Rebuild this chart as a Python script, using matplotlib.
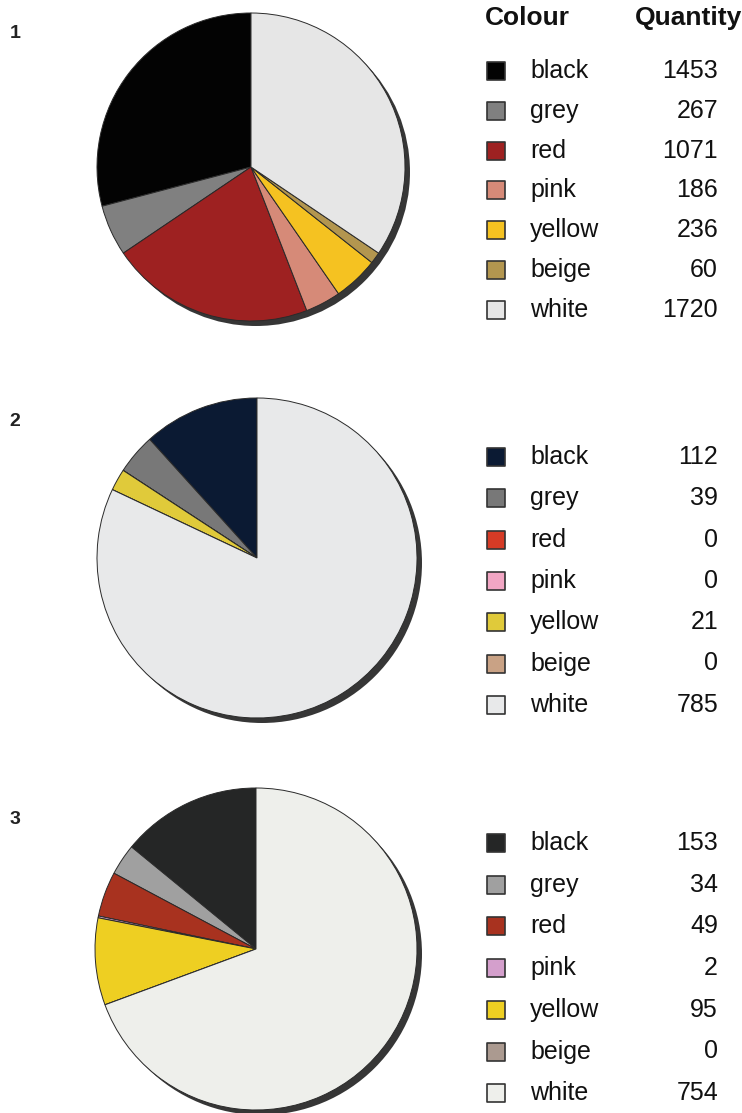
import matplotlib
matplotlib.use("Agg")
import matplotlib.pyplot as plt
from matplotlib.patches import Circle

plt.rcParams['font.family'] = ['Liberation Sans', 'DejaVu Sans']

colours = ['black', 'grey', 'red', 'pink', 'yellow', 'beige', 'white']
qty1 = [1453, 267, 1071, 186, 236, 60, 1720]
qty2 = [112, 39, 0, 0, 21, 0, 785]
qty3 = [153, 34, 49, 2, 95, 0, 754]
panel_labels = ['1', '2', '3']

pal1 = ['#030303', '#808080', '#9e2121', '#d68a78', '#f5c221', '#b3964f', '#e6e6e6']
pal2 = ['#0b1a33', '#787878', '#d63b26', '#f2a6c4', '#e0ca3a', '#c9a285', '#e8e9ea']
pal3 = ['#252626', '#a0a0a0', '#a8321f', '#d49fcc', '#eecf22', '#ab9a90', '#eeefeb']

W, H = 742, 1113
fig = plt.figure(figsize=(W / 100, H / 100), dpi=100)
ax = fig.add_axes([0, 0, 1, 1])

# layout (pixel coords, y measured from top)
panels = [
    dict(q=qty1, pal=pal1, cx=251, cy=167, r=154, row0=71, dy=39.8, lab_y=34),
    dict(q=qty2, pal=pal2, cx=257, cy=558, r=160, row0=457, dy=41.3, lab_y=422),
    dict(q=qty3, pal=pal3, cx=256, cy=949, r=161, row0=843, dy=41.7, lab_y=820),
]

def Y(y):
    return H - y

for i, p in enumerate(panels):
    cx, cy, r = p['cx'], Y(p['cy']), p['r']
    ax.add_patch(Circle((cx + 5, cy - 5), r, facecolor='#363636', edgecolor='none', zorder=1))
    wedges, _ = ax.pie(p['q'], colors=p['pal'], startangle=90, counterclock=True,
                       center=(cx, cy), radius=r,
                       wedgeprops=dict(edgecolor='#2a2a2a', linewidth=0.7))
    for w in wedges:
        w.set_zorder(2)
    ax.text(15, Y(p['lab_y']), panel_labels[i], fontsize=14, fontweight='bold',
            ha='center', va='center', color='#222222')
    for j, (name, val) in enumerate(zip(colours, p['q'])):
        yy = Y(p['row0'] + j * p['dy'])
        ax.scatter([496], [yy], marker='s', s=175, color=p['pal'][j],
                   edgecolor='#333333', linewidth=1.2, zorder=3)
        ax.text(530, yy, name, fontsize=18, ha='left', va='center', color='#111111')
        ax.text(718, yy, str(val), fontsize=18, ha='right', va='center', color='#111111')

ax.text(485, Y(18), 'Colour', fontsize=19, fontweight='bold', ha='left', va='center', color='#111111')
ax.text(742, Y(18), 'Quantity', fontsize=19, fontweight='bold', ha='right', va='center', color='#111111')

ax.set_xlim(0, W)
ax.set_ylim(0, H)
ax.set_aspect('auto')
ax.axis('off')

fig.savefig('out.png', dpi=100)
